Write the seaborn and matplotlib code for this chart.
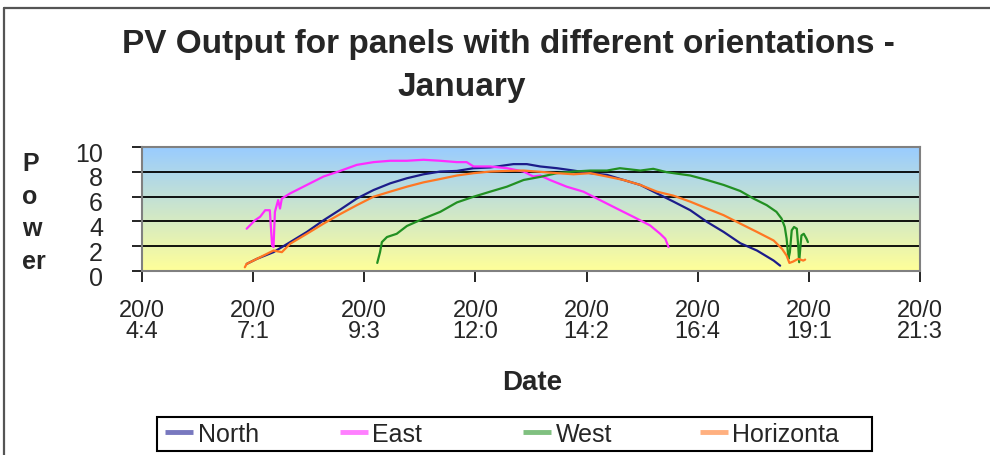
import numpy as np
import pandas as pd
import matplotlib
matplotlib.use("Agg")
import matplotlib.pyplot as plt
import matplotlib.transforms as mtransforms
from matplotlib.lines import Line2D
from matplotlib.patches import Rectangle
from matplotlib.colors import LinearSegmentedColormap
import seaborn as sns

# Time of day (hours) and PV power for each panel orientation
north_t = [7.06, 7.28, 7.64, 8.00, 8.36, 8.72, 9.08, 9.44, 9.80, 10.16, 10.52, 10.88,
           11.24, 11.60, 11.96, 12.32, 12.82, 13.11, 13.40, 13.76, 14.12, 14.48, 14.84,
           15.20, 15.56, 15.92, 16.28, 16.64, 17.00, 17.36, 17.72, 18.08, 18.44, 18.58]
north_v = [0.57, 0.98, 1.52, 2.33, 3.15, 4.09, 4.95, 5.85, 6.53, 7.07, 7.48, 7.80,
           8.02, 8.07, 8.29, 8.35, 8.62, 8.62, 8.43, 8.29, 8.10, 7.89, 7.75,
           7.34, 6.94, 6.26, 5.59, 4.90, 3.96, 3.15, 2.24, 1.65, 0.84, 0.43]

east_t = [7.06, 7.24, 7.35, 7.46, 7.56, 7.61, 7.64, 7.67, 7.74, 7.78, 7.82, 8.00,
          8.36, 8.72, 9.04, 9.44, 9.80, 10.16, 10.52, 10.88, 11.24, 11.60, 11.81,
          11.96, 12.32, 12.68, 13.04, 13.25, 13.40, 13.61, 13.97, 14.33, 14.69,
          15.05, 15.41, 15.77, 15.99, 16.10, 16.17]
east_v = [3.41, 4.09, 4.37, 4.90, 4.90, 2.06, 1.93, 4.77, 5.72, 5.04, 5.85, 6.26,
          6.94, 7.62, 8.02, 8.56, 8.78, 8.89, 8.89, 8.97, 8.89, 8.78, 8.78,
          8.43, 8.43, 8.29, 8.02, 7.62, 7.70, 7.34, 6.80, 6.40, 5.72,
          5.04, 4.37, 3.68, 3.00, 2.60, 1.93]

west_t = [9.88, 9.94, 9.98, 10.09, 10.30, 10.52, 10.88, 11.24, 11.60, 11.96, 12.32,
          12.68, 13.04, 13.40, 13.76, 14.12, 14.48, 14.84, 15.12, 15.56, 15.84, 16.13,
          16.28, 16.64, 17.00, 17.36, 17.72, 18.00, 18.29, 18.50, 18.61, 18.68, 18.72,
          18.76, 18.79, 18.83, 18.88, 18.94, 18.97, 18.99, 19.02, 19.04, 19.09, 19.15,
          19.18]
west_v = [0.65, 1.52, 2.33, 2.74, 3.00, 3.63, 4.23, 4.77, 5.53, 5.99, 6.40,
          6.80, 7.34, 7.59, 7.89, 8.02, 8.10, 8.10, 8.29, 8.10, 8.24, 7.97,
          7.89, 7.70, 7.34, 6.94, 6.45, 5.85, 5.31, 4.77, 4.23, 3.55, 2.60,
          0.98, 1.52, 3.28, 3.55, 3.41, 2.06, 0.71, 2.06, 2.87, 3.00, 2.60,
          2.33]

horiz_t = [7.02, 7.06, 7.28, 7.64, 7.82, 8.00, 8.36, 8.72, 9.08, 9.44, 9.80, 10.16,
           10.52, 10.88, 11.24, 11.60, 11.96, 12.32, 12.68, 13.04, 13.40, 13.76, 14.12,
           14.48, 14.84, 15.20, 15.56, 15.92, 16.28, 16.64, 17.00, 17.36, 17.72, 18.08,
           18.44, 18.62, 18.72, 18.78, 18.86, 18.97, 19.08, 19.12]
horiz_v = [0.30, 0.57, 0.98, 1.65, 1.52, 2.20, 3.00, 3.82, 4.59, 5.31, 5.99, 6.40,
           6.80, 7.15, 7.42, 7.70, 7.89, 8.02, 8.07, 8.10, 8.00, 7.89, 7.80,
           7.89, 7.62, 7.34, 6.94, 6.40, 6.07, 5.59, 5.04, 4.50, 3.82, 3.15,
           2.46, 1.79, 1.24, 0.65, 0.76, 0.98, 0.84, 0.92]

series_names = ["North", "East", "West", "Horizonta"]
series_colors = ["#1c1c8a", "#ff2bff", "#229022", "#ff7722"]
legend_colors = ["#7878bf", "#ff80ff", "#80c080", "#ffb080"]

x_ticks = [4.8, 7.2, 9.6, 12.0, 14.4, 16.8, 19.2, 21.6]
x_tick_labels = ["20/0\n4:4", "20/0\n7:1", "20/0\n9:3", "20/0\n12:0",
                 "20/0\n14:2", "20/0\n16:4", "20/0\n19:1", "20/0\n21:3"]
y_ticks = [0, 2, 4, 6, 8, 10]

df = pd.concat([
    pd.DataFrame({"Date": t, "Power": v, "Panel": name})
    for name, t, v in zip(series_names,
                          [north_t, east_t, west_t, horiz_t],
                          [north_v, east_v, west_v, horiz_v])
], ignore_index=True)

sns.set_theme(style="white")
NARROW = ["Liberation Sans Narrow", "Liberation Sans", "DejaVu Sans"]
plt.rcParams["font.family"] = ["Liberation Sans", "DejaVu Sans"]

W, H = 990, 456
fig = plt.figure(figsize=(W / 100, H / 100), dpi=100)
fig.patch.set_facecolor("white")

x0, x1, y0, y1 = 142, 920, 148, 272
ax = fig.add_axes([x0 / W, 1 - y1 / H, (x1 - x0) / W, (y1 - y0) / H])

# blue-to-yellow plot area fill
cmap = LinearSegmentedColormap.from_list("bg", ["#ffff99", "#99ccff"])
ax.imshow(np.linspace(0, 1, 256).reshape(-1, 1), cmap=cmap, origin="lower",
          extent=[4.8, 21.6, 0, 10], aspect="auto", zorder=0)
for yv in [2, 4, 6, 8]:
    ax.axhline(yv, color="black", lw=1.3, zorder=1)

sns.lineplot(data=df, x="Date", y="Power", hue="Panel", hue_order=series_names,
             palette=series_colors, sort=False, estimator=None, legend=False,
             linewidth=1.6, ax=ax, zorder=3)

ax.set_xlim(4.8, 21.6)
ax.set_ylim(0, 10)
ax.set_xlabel("")
ax.set_ylabel("")
for sp in ax.spines.values():
    sp.set_visible(True)
    sp.set_color("#808080")
    sp.set_linewidth(1.5)

ax.set_xticks(x_ticks)
ax.set_xticklabels(x_tick_labels, family=NARROW, fontsize=17, linespacing=0.95)
ax.set_yticks(y_ticks)
ax.set_yticklabels([str(v) for v in y_ticks], family=NARROW, fontsize=18)
ax.tick_params(axis="x", bottom=True, direction="out", length=8, width=1.2,
               color="black", pad=12)
ax.tick_params(axis="y", left=True, direction="out", length=7, width=1.2,
               color="black", pad=21)
offset = mtransforms.ScaledTranslation(0, -3 / 72, fig.dpi_scale_trans)
for lab in ax.get_yticklabels():
    lab.set_transform(lab.get_transform() + offset)

fig.text(508 / W, 1 - 45 / H, "PV Output for panels with different orientations -",
         ha="center", va="center", fontsize=24, fontweight="bold")
fig.text(462 / W, 1 - 88 / H, "January", ha="center", va="center",
         fontsize=24, fontweight="bold")
fig.text(532 / W, 1 - 383 / H, "Date", ha="center", va="center",
         fontsize=20, fontweight="bold")
fig.text(22 / W, 1 - 213 / H, "P\no\nw\ner", ha="left", va="center",
         multialignment="left", fontsize=18, fontweight="bold", linespacing=1.45)

# legend: fixed-width slots inside one black box
fig.add_artist(Rectangle((157 / W, 1 - 452 / H), (872 - 157) / W, 34 / H,
                         transform=fig.transFigure, facecolor="white",
                         edgecolor="black", lw=1.5, zorder=5))
slot_x = [165, 340, 523, 700]
for name, col, sx in zip(series_names, legend_colors, slot_x):
    h = Line2D([], [], color=col, lw=3.5, solid_capstyle="butt")
    lg = fig.legend([h], [name], loc="center left",
                    bbox_to_anchor=(sx / W, 1 - 435 / H), fontsize=18,
                    frameon=False, handlelength=1.1, handletextpad=0.2,
                    borderpad=0, borderaxespad=0)
    lg.set_zorder(6)

# outer chart frame
fig.add_artist(Line2D([4 / W, 4 / W], [0, 1 - 9 / H], transform=fig.transFigure,
                      color="#555555", lw=1.6))
fig.add_artist(Line2D([4 / W, 1], [1 - 9 / H, 1 - 9 / H], transform=fig.transFigure,
                      color="#555555", lw=1.6))

fig.savefig("out.png", dpi=100)
